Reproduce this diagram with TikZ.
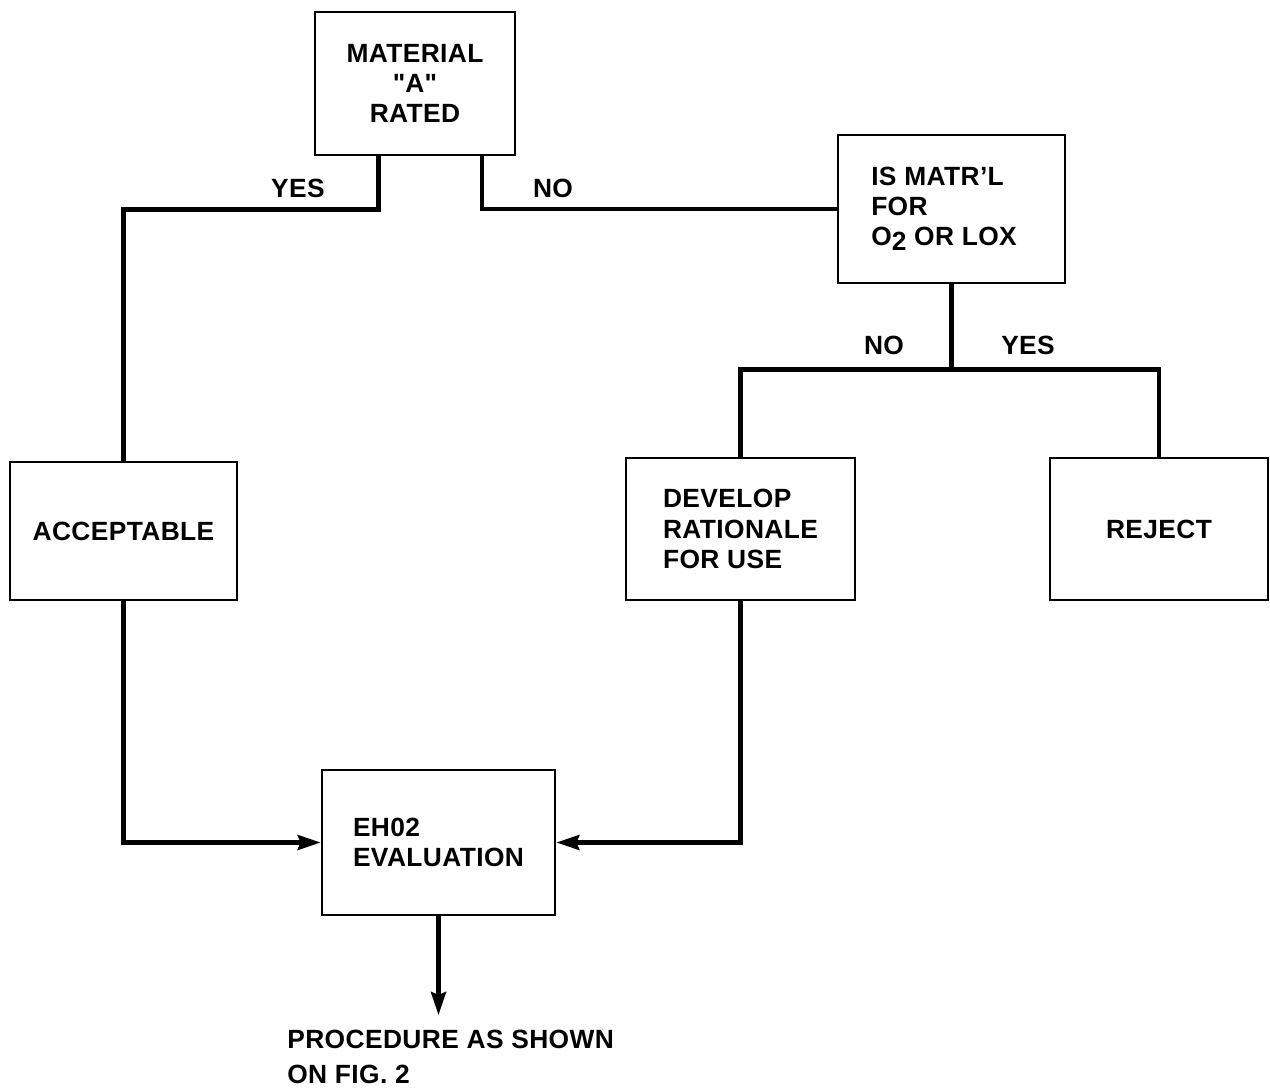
\documentclass[tikz,border=0pt]{standalone}
\usepackage{fontspec}
\setmainfont{Liberation Sans}[LetterSpace=1.5]
\usetikzlibrary{positioning,arrows.meta,calc}

\begin{document}
\begin{tikzpicture}[
  x=0.02cm, y=-0.02cm,
  >={Stealth[length=0.46cm, width=0.3cm, inset=0.06cm]},
  every node/.style={font=\bfseries\fontsize{15}{17.2}\selectfont, text=black},
  chartbox/.style={draw, line width=1.6pt, minimum width=#1, inner sep=0pt},
  conn/.style={line width=2.4pt},
  answer/.style={inner sep=1pt},
]
\useasboundingbox (0,0) rectangle (1270,1088);

% ── Boxes ──
\node[chartbox=4cm, minimum height=2.86cm, align=center]
  (mat) at (415,83.5) {MATERIAL\\\textquotedbl A\textquotedbl\\RATED};
\node[chartbox=4.54cm, minimum height=2.96cm, align=left]
  (matr) at (951.5,209) {IS MATR'L\\FOR\\O\raisebox{-0.35ex}{2} OR LOX\hspace*{0.3cm}};
\node[chartbox=4.54cm, minimum height=2.76cm]
  (acc) at (123.5,531) {ACCEPTABLE};
\node[chartbox=4.58cm, minimum height=2.84cm, align=left]
  (dev) at (740.5,529) {DEVELOP\\RATIONALE\\FOR USE};
\node[chartbox=4.36cm, minimum height=2.84cm]
  (rej) at (1159,529) {REJECT};
\node[chartbox=4.66cm, minimum height=2.9cm, align=left]
  (eval) at (438.5,842.5) {EH02\\EVALUATION};
\node[anchor=north west, align=left, inner sep=0pt,
      font=\bfseries\fontsize{15}{20}\selectfont]
  (proc) at (287,1030) {PROCEDURE AS SHOWN\\ON FIG. 2};

% ── Edge: yes / no out of MATERIAL "A" RATED ──
\draw[conn] ($(mat.south west)!0.32!(mat.south east)$) -- ++(0,53) -| (acc.north);
\draw[conn] ($(mat.south west)!0.83!(mat.south east)$) |- (matr.west);
\node[answer] (yesa) at (298,188) {YES};
\node[answer] (noa) at (553,188) {NO};

% ── Edge: split under IS MATR'L ──
\draw[conn] (matr.south) -- ++(0,85) coordinate (split);
\draw[conn] (dev.north) |- (split) -| (rej.north);
\node[answer] (nob) at (884,345) {NO};
\node[answer] (yesb) at (1028,345) {YES};

% ── Edge: into EH02 EVALUATION ──
\draw[conn, ->] (acc.south) |- (eval.west);
\draw[conn, ->] (dev.south) |- (eval.east);
\draw[conn, ->, shorten >=0.3cm] (eval.south) -- (eval.south |- proc.north);

\end{tikzpicture}
\end{document}
